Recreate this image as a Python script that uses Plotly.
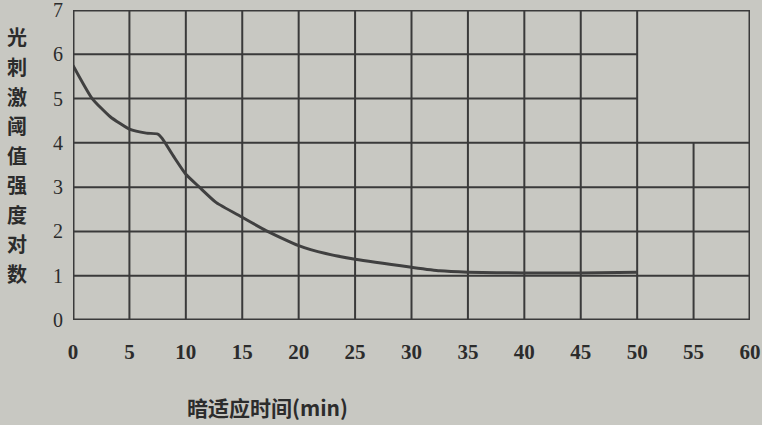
import plotly.graph_objects as go

# Data (dark adaptation curve)
time_min = [0, 1.7, 3.3, 5.0, 6.5, 7.5, 7.9, 8.9, 10.0, 11.2, 12.7, 15.0, 17.1, 20.0, 22.4, 25.0, 30.0, 32.5, 35.0, 40.0, 45.0, 50.0]
log_threshold = [5.75, 5.0, 4.59, 4.31, 4.22, 4.2, 4.1, 3.7, 3.29, 3.0, 2.65, 2.32, 2.02, 1.68, 1.5, 1.37, 1.19, 1.11, 1.08, 1.06, 1.06, 1.08]

x_ticks = [0, 5, 10, 15, 20, 25, 30, 35, 40, 45, 50, 55, 60]
y_ticks = [0, 1, 2, 3, 4, 5, 6, 7]
y_title_chars = list("光刺激阈值强度对数")
x_title = "暗适应时间(min)"

BG = "#c8c8c2"
INK = "#3a3a3a"
TXT = "#2c2c2c"

W, H = 762, 425
L, R, T, B = 73, 12, 10, 105
PW, PH = W - L - R, H - T - B


def px(xpix):
    return (xpix - L) / PW


def py(ypix):
    return (H - B - ypix) / PH


fig = go.Figure()
fig.add_trace(go.Scatter(
    x=time_min, y=log_threshold, mode="lines",
    line=dict(color="#404040", width=3, shape="spline", smoothing=0.5),
    hoverinfo="skip", showlegend=False,
))

shapes = []
# grid lines (upper-right block 50-60 x 4-7 is blank in the original)
for xv in x_ticks[1:-1]:
    top = 4 if xv > 50 else 7
    shapes.append(dict(type="line", xref="x", yref="y", x0=xv, x1=xv, y0=0, y1=top,
                       line=dict(color=INK, width=2), layer="below"))
for yv in y_ticks[1:-1]:
    right = 50 if yv > 4 else 60
    shapes.append(dict(type="line", xref="x", yref="y", x0=0, x1=right, y0=yv, y1=yv,
                       line=dict(color=INK, width=2), layer="below"))
# frame
shapes.append(dict(type="rect", xref="x", yref="y", x0=0, x1=60, y0=0, y1=7,
                   line=dict(color=INK, width=3), layer="above"))

annotations = []
for i, ch in enumerate(y_title_chars):
    annotations.append(dict(
        text=ch, xref="paper", yref="paper",
        x=px(17), y=py(37 + i * 29.5),
        xanchor="center", yanchor="middle", showarrow=False,
        font=dict(family="Noto Sans CJK SC", size=20, color=TXT, weight="bold"),
    ))
annotations.append(dict(
    text=x_title, xref="paper", yref="paper",
    x=px(185), y=py(407),
    xanchor="left", yanchor="middle", showarrow=False,
    font=dict(family="Noto Sans CJK SC", size=21, color=TXT, weight="bold"),
))

fig.update_layout(
    width=W, height=H, autosize=False,
    margin=dict(l=L, r=R, t=T, b=B),
    paper_bgcolor=BG, plot_bgcolor=BG,
    shapes=shapes, annotations=annotations,
    xaxis=dict(range=[0, 60], tickvals=x_ticks, ticktext=[str(v) for v in x_ticks],
               showgrid=False, zeroline=False, showline=False, ticks="", automargin=False,
               ticklabelstandoff=17, ticklabeloverflow="allow",
               tickfont=dict(family="Liberation Serif", size=21, color=TXT, weight="bold")),
    yaxis=dict(range=[0, 7], tickvals=y_ticks, ticktext=[str(v) for v in y_ticks],
               showgrid=False, zeroline=False, showline=False, ticks="", automargin=False,
               ticklabelstandoff=9, ticklabeloverflow="allow",
               tickfont=dict(family="Liberation Serif", size=20, color=TXT)),
)

fig.write_html("out.html", config={"displayModeBar": False, "responsive": False},
               post_script="document.body.style.margin='0';document.body.style.background='" + BG + "';")
